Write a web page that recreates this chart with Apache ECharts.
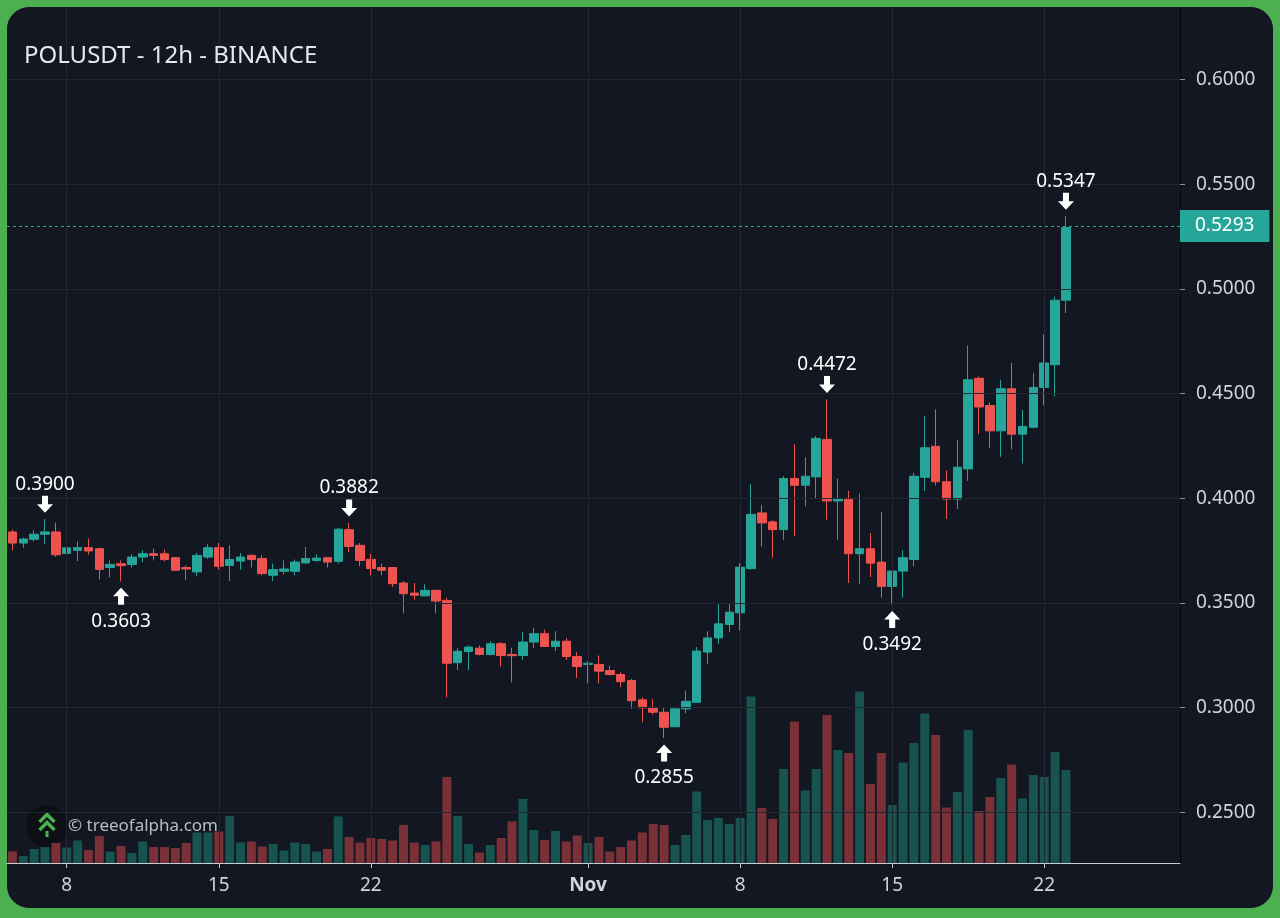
<!DOCTYPE html>
<html>
<head>
<meta charset="utf-8">
<script src="https://cdn.jsdelivr.net/npm/echarts@6/dist/echarts.min.js"></script>
<style>
html,body{margin:0;padding:0;background:#4caf50;}
#c{width:1280px;height:918px;}
</style>
</head>
<body>
<div id="c"></div>
<script>
// ---- DATA (POLUSDT 12h, Binance) ----
const startTime = Date.UTC(2024, 9, 5, 12); // first candle: Oct 5 12:00
const opens  = [0.3839,0.3786,0.3804,0.3828,0.3839,0.3736,0.3751,0.3764,0.3759,0.3669,0.3687,0.3684,0.3719,0.3735,0.3735,0.3716,0.3669,0.3648,0.3719,0.3764,
                0.3679,0.3700,0.3727,0.3712,0.3632,0.3651,0.3651,0.3691,0.3703,0.3716,0.3699,0.3850,0.3775,0.3708,0.3669,0.3669,0.3595,0.3547,0.3534,0.3560,
                0.3512,0.3215,0.3268,0.3284,0.3254,0.3305,0.3254,0.3249,0.3313,0.3353,0.3292,0.3317,0.3244,0.3206,0.3206,0.3177,0.3158,0.3129,0.3037,0.3001,
                0.2978,0.2909,0.2994,0.3025,0.3265,0.3333,0.3397,0.3453,0.3664,0.3930,0.3887,0.3850,0.4094,0.4062,0.4102,0.4281,0.3987,0.3999,0.3735,0.3759,
                0.3695,0.3579,0.3652,0.3707,0.4100,0.4248,0.4079,0.3996,0.4140,0.4573,0.4443,0.4322,0.4523,0.4306,0.4339,0.4529,0.4638,0.4946];
const highs  = [0.3850,0.3812,0.3847,0.3900,0.3884,0.3775,0.3794,0.3807,0.3764,0.3703,0.3703,0.3732,0.3751,0.3759,0.3754,0.3719,0.3679,0.3738,0.3780,0.3786,
                0.3775,0.3738,0.3732,0.3727,0.3688,0.3703,0.3707,0.3767,0.3732,0.3719,0.3858,0.3882,0.3786,0.3735,0.3688,0.3672,0.3604,0.3595,0.3589,0.3563,
                0.3525,0.3286,0.3297,0.3297,0.3317,0.3313,0.3286,0.3360,0.3381,0.3372,0.3365,0.3333,0.3265,0.3222,0.3249,0.3199,0.3169,0.3137,0.3049,0.3040,
                0.2999,0.3001,0.3081,0.3289,0.3365,0.3493,0.3499,0.3691,0.4067,0.3967,0.3895,0.4105,0.4258,0.4195,0.4297,0.4472,0.4094,0.4035,0.4022,0.3834,
                0.3934,0.3656,0.3751,0.4121,0.4393,0.4425,0.4133,0.4278,0.4729,0.4581,0.4458,0.4566,0.4646,0.4421,0.4599,0.4783,0.4963,0.5347];
const lows   = [0.3751,0.3764,0.3794,0.3783,0.3720,0.3710,0.3700,0.3730,0.3612,0.3622,0.3603,0.3669,0.3695,0.3703,0.3699,0.3652,0.3610,0.3627,0.3710,0.3659,
                0.3605,0.3659,0.3669,0.3632,0.3605,0.3636,0.3632,0.3688,0.3695,0.3669,0.3688,0.3743,0.3675,0.3632,0.3632,0.3576,0.3451,0.3515,0.3531,0.3451,
                0.3049,0.3180,0.3180,0.3249,0.3249,0.3196,0.3121,0.3228,0.3284,0.3289,0.3270,0.3228,0.3142,0.3116,0.3116,0.3153,0.3097,0.2994,0.2930,0.2967,
                0.2855,0.2906,0.2973,0.3022,0.3209,0.3305,0.3360,0.3368,0.3659,0.3770,0.3716,0.3802,0.3818,0.3962,0.3999,0.3898,0.3802,0.3595,0.3592,0.3624,
                0.3525,0.3492,0.3525,0.3675,0.4035,0.4061,0.3901,0.3949,0.4083,0.4306,0.4241,0.4198,0.4234,0.4166,0.4334,0.4443,0.4486,0.4885];
const closes = [0.3786,0.3805,0.3828,0.3839,0.3730,0.3763,0.3764,0.3748,0.3660,0.3684,0.3678,0.3719,0.3735,0.3727,0.3707,0.3656,0.3662,0.3727,0.3764,0.3675,
                0.3707,0.3719,0.3707,0.3640,0.3659,0.3662,0.3695,0.3712,0.3714,0.3695,0.3852,0.3770,0.3703,0.3664,0.3656,0.3592,0.3544,0.3537,0.3560,0.3509,
                0.3212,0.3269,0.3289,0.3254,0.3305,0.3249,0.3248,0.3313,0.3353,0.3292,0.3317,0.3244,0.3196,0.3212,0.3174,0.3158,0.3124,0.3033,0.2999,0.2978,
                0.2906,0.2994,0.3030,0.3270,0.3333,0.3400,0.3456,0.3671,0.3923,0.3882,0.3850,0.4094,0.4062,0.4105,0.4286,0.3987,0.3999,0.3735,0.3759,0.3690,
                0.3579,0.3652,0.3716,0.4105,0.4241,0.4079,0.3996,0.4148,0.4566,0.4436,0.4322,0.4523,0.4306,0.4343,0.4529,0.4646,0.4946,0.5293];
const volumes = [11.6,7,14,16,20,15.5,22.5,13,27,11.5,17,10,21.5,16,16,15,20,30.5,30.5,31.5,
                 47,20.5,21.5,16.5,19,12.5,20.5,19,11.5,14,46.5,26,20.5,25,24,22.5,38,20.5,18,21.5,
                 86,47,19,10.5,18,25,41.5,64,33,23,32,21.5,27.5,20,26,11.5,16,22.5,30.5,39,
                 38,18,28,71.5,43,45,39,45,166.5,55,44,94,141.5,72.5,94,148,113,110,171.5,79,
                 110,58,100.5,120,149.5,128,55.5,71,133,52,66,85,98.5,64.5,88,86,111,93];
const emptySlots = 10; // empty space to the right of the last candle
const tickDates = ['10-08 00:00','10-15 00:00','10-22 00:00','11-01 00:00','11-08 00:00','11-15 00:00','11-22 00:00'];
const tickTexts = ['8','15','22','Nov','8','15','22'];
const yTicks = [0.25,0.30,0.35,0.40,0.45,0.50,0.55,0.60];
const markerIdx  = [3, 10, 31, 60, 75, 81, 97];
const markerType = ['high','low','high','low','high','low','high'];
const titleText = 'POLUSDT - 12h - BINANCE';
const watermarkText = '\u00A9 treeofalpha.com';

// ---- build categories ----
const pad = n => String(n).padStart(2, '0');
const categories = [];
for (let i = 0; i < opens.length + emptySlots; i++) {
  const d = new Date(startTime + i * 12 * 3600 * 1000);
  categories.push(pad(d.getUTCMonth() + 1) + '-' + pad(d.getUTCDate()) + ' ' + pad(d.getUTCHours()) + ':00');
}
const tickMap = {};
tickDates.forEach((d, k) => tickMap[d] = tickTexts[k]);

const UP = '#26a69a', DOWN = '#ef5350';
const VOL_UP = '#17534f', VOL_DOWN = '#7a3037';
const GRID = '#232732';
const TXT = '#d1d4dc';
const FONT = 'Noto Sans';

const candleData = opens.map((o, i) => [o, closes[i], lows[i], highs[i]]);
const volData = volumes.map((v, i) => ({ value: v, itemStyle: { color: closes[i] >= opens[i] ? VOL_UP : VOL_DOWN } }));
const lastClose = closes[closes.length - 1];

const downArrow = 'path://M5,0 L11,0 L11,8 L16,8 L8,16 L0,8 L5,8 Z';
const upArrow = 'path://M8,0 L16,8 L11,8 L11,16 L5,16 L5,8 L0,8 Z';
const markPoints = markerIdx.map((i, k) => {
  const isHigh = markerType[k] === 'high';
  const v = isHigh ? highs[i] : lows[i];
  return {
    coord: [categories[i], v],
    value: v,
    symbol: isHigh ? downArrow : upArrow,
    symbolSize: [16, 17],
    symbolOffset: [0, isHigh ? -15 : 15],
    label: { position: isHigh ? 'top' : 'bottom', distance: isHigh ? 2 : 7 }
  };
});

const chart = echarts.init(document.getElementById('c'), null, { renderer: 'canvas' });
chart.setOption({
  animation: false,
  backgroundColor: '#4caf50',
  textStyle: { fontFamily: FONT },
  title: {
    text: titleText, left: 19, top: 39,
    textStyle: { color: '#e6e8ec', fontSize: 24, fontWeight: 'normal', fontFamily: FONT }
  },
  graphic: [
    { type: 'rect', z: -10, silent: true, shape: { x: 7, y: 7, width: 1266, height: 901, r: 22 }, style: { fill: '#131722' } },
    { type: 'group', z: 100, silent: true, children: [
      { type: 'circle', shape: { cx: 47, cy: 826, r: 21 }, style: { fill: '#0c0f14' } },
      { type: 'polyline', shape: { points: [[39.5, 822], [47, 814.5], [54.5, 822]] }, style: { stroke: '#4caf50', lineWidth: 3.5, fill: null } },
      { type: 'polyline', shape: { points: [[39.5, 830], [47, 822.5], [54.5, 830]] }, style: { stroke: '#4caf50', lineWidth: 3.5, fill: null } },
      { type: 'rect', shape: { x: 45.5, y: 831, width: 3, height: 6 }, style: { fill: '#4caf50' } },
      { type: 'text', style: { x: 68, y: 826, text: watermarkText, fill: '#b9bcc4', font: '17px "Noto Sans"', textVerticalAlign: 'middle' } }
    ]}
  ],
  grid: [
    { left: 7, width: 1173, top: 8, height: 855 },
    { left: 7, width: 1173, top: 563, height: 300 }
  ],
  xAxis: [
    {
      type: 'category', gridIndex: 0, data: categories, boundaryGap: true,
      axisLine: { lineStyle: { color: '#c8ccd4', width: 1 } },
      axisTick: { show: true, alignWithLabel: true, length: 5, interval: (i, v) => v in tickMap, lineStyle: { color: '#c8ccd4' } },
      axisLabel: {
        interval: (i, v) => v in tickMap, margin: 13, color: TXT, fontSize: 19, fontFamily: FONT,
        formatter: v => tickMap[v] === 'Nov' ? '{b|Nov}' : (tickMap[v] || ''),
        rich: { b: { fontWeight: 'bold', fontSize: 19, color: TXT, fontFamily: FONT } }
      },
      splitLine: { show: false }
    },
    { type: 'category', gridIndex: 1, data: categories, boundaryGap: true, show: false }
  ],
  yAxis: [
    {
      type: 'value', gridIndex: 0, position: 'right', min: 0.22578, max: 0.63415, scale: true,
      axisLine: { show: true, lineStyle: { color: '#05070b', width: 1 } },
      axisTick: { show: true, length: 5, customValues: yTicks, lineStyle: { color: '#8a8e98' } },
      axisLabel: { customValues: yTicks, margin: 16, color: TXT, fontSize: 19, fontFamily: FONT, formatter: v => v.toFixed(4) },
      splitLine: { show: false }
    },
    { type: 'value', gridIndex: 1, min: 0, max: 300, show: false, splitLine: { show: false } }
  ],
  series: [
    {
      type: 'line', xAxisIndex: 0, yAxisIndex: 0, data: [], z: 1, silent: true,
      markLine: {
        silent: true, symbol: ['none', 'none'], animation: false,
        label: { show: false },
        lineStyle: { color: GRID, type: 'solid', width: 1 },
        data: tickDates.map(d => ({ xAxis: d })).concat(yTicks.map(v => ({ yAxis: v })))
      }
    },
    {
      type: 'bar', xAxisIndex: 1, yAxisIndex: 1, data: volData, barWidth: 9, z: 2, silent: true
    },
    {
      type: 'candlestick', xAxisIndex: 0, yAxisIndex: 0, data: candleData, barWidth: 9, z: 3,
      itemStyle: { color: UP, color0: DOWN, borderColor: UP, borderColor0: DOWN, borderWidth: 1 },
      markLine: {
        silent: true, symbol: ['none', 'none'], animation: false,
        data: [{
          yAxis: lastClose,
          lineStyle: { color: UP, type: [3, 3], width: 1 },
          label: {
            show: true, position: 'end', distance: 0, formatter: () => lastClose.toFixed(4),
            backgroundColor: UP, color: '#ffffff', fontSize: 19, fontFamily: FONT,
            padding: [7, 15, 6, 15], lineHeight: 19
          }
        }]
      },
      markPoint: {
        silent: true, animation: false,
        itemStyle: { color: '#ffffff' },
        label: { color: '#ffffff', fontSize: 19, fontFamily: FONT, formatter: p => Number(p.value).toFixed(4) },
        data: markPoints
      }
    }
  ]
});
</script>
</body>
</html>
